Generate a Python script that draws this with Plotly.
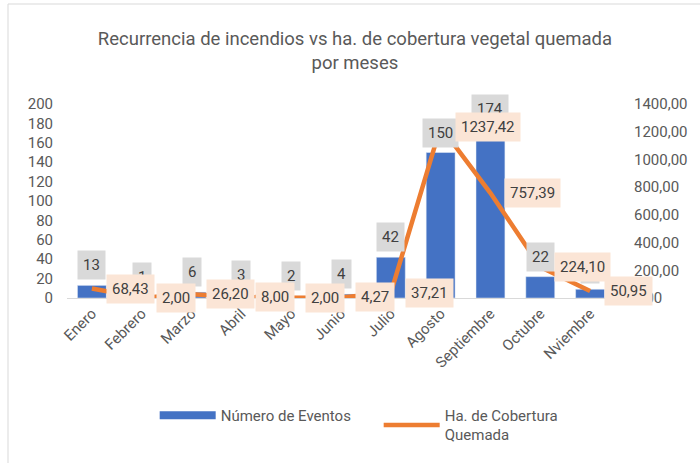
import plotly.graph_objects as go

meses = ["Enero", "Febrero", "Marzo", "Abril", "Mayo", "Junio", "Julio",
         "Agosto", "Septiembre", "Octubre", "Nviembre"]
eventos = [13, 1, 6, 3, 2, 4, 42, 150, 174, 22, 9]
hectareas = [68.43, 2.00, 26.20, 8.00, 2.00, 4.27, 37.21, 1237.42, 757.39, 224.10, 50.95]

y1_ticks = list(range(0, 201, 20))
y2_ticks = list(range(0, 1401, 200))

GRAY = "#595959"
FONT = "Roboto"
BLUE = "#4472c4"
ORANGE = "#ed7d31"

def fmt(v):
    return f"{v:.2f}".replace(".", ",")

fig = go.Figure()
fig.add_trace(go.Bar(
    x=meses, y=eventos, name="Número de Eventos",
    marker=dict(color=BLUE), yaxis="y", showlegend=False,
))
fig.add_trace(go.Scatter(
    x=meses, y=hectareas, name="Ha. de Cobertura<br>Quemada",
    mode="lines", line=dict(color=ORANGE, width=4.5), yaxis="y2",
    showlegend=False,
))
# legend entries (Excel-style wide swatches)
fig.add_trace(go.Scatter(
    x=[None], y=[None], name="Número de Eventos", mode="lines",
    line=dict(color=BLUE, width=8), yaxis="y",
))
fig.add_trace(go.Scatter(
    x=[None], y=[None], name="Ha. de Cobertura<br>Quemada", mode="lines",
    line=dict(color=ORANGE, width=4.5), yaxis="y2",
))

annotations = []
for m, v in zip(meses, eventos):
    annotations.append(dict(
        x=m, y=v, xref="x", yref="y", text=str(v), showarrow=False,
        yanchor="bottom", yshift=5, bgcolor="#d9d9d9", borderpad=5,
        font=dict(family=FONT, size=15, color="#404040"),
    ))
for m, v in zip(meses, hectareas):
    annotations.append(dict(
        x=m, y=v, xref="x", yref="y2", text=fmt(v), showarrow=False,
        xanchor="left", yanchor="middle", xshift=14, bgcolor="#fbe5d6",
        borderpad=5, font=dict(family=FONT, size=15, color="#404040"),
    ))

fig.update_layout(
    width=700, height=463,
    margin=dict(l=67, r=85, t=104, b=165, autoexpand=False),
    paper_bgcolor="white", plot_bgcolor="white",
    font=dict(family=FONT, size=15, color=GRAY),
    separators=",.",
    title=dict(
        text="Recurrencia de incendios vs ha. de cobertura vegetal quemada<br>por meses",
        x=0.507, xanchor="center", y=0.903, yanchor="top",
        font=dict(family=FONT, size=18.5, color=GRAY),
    ),
    bargap=0.42,
    xaxis=dict(
        type="category", range=[-0.5, len(meses) - 0.5],
        tickangle=-45, showgrid=False, showline=True, linecolor="#d9d9d9",
        linewidth=1, ticks="", tickfont=dict(size=15, color=GRAY),
        automargin=False,
    ),
    yaxis=dict(
        range=[0, 200], tickvals=y1_ticks, showgrid=False, zeroline=False,
        showline=False, ticks="", tickfont=dict(size=15, color=GRAY),
        automargin=False, ticklabelstandoff=13,
    ),
    yaxis2=dict(
        range=[0, 1400], tickvals=y2_ticks, tickformat=".2f", overlaying="y",
        side="right", showgrid=False, zeroline=False, showline=False,
        ticks="", tickfont=dict(size=15, color=GRAY), automargin=False,
        ticklabelstandoff=18,
    ),
    legend=dict(
        orientation="h", x=0.16, xanchor="left", y=-0.52, yanchor="top",
        font=dict(family=FONT, size=15, color=GRAY), itemwidth=56,
        entrywidth=153, entrywidthmode="pixels",
    ),
    annotations=annotations,
    shapes=[dict(
        type="rect", xref="paper", yref="paper",
        x0=(8 - 67) / 548, x1=(702 - 67) / 548,
        y0=(298 - 465) / 194, y1=(298 - 4) / 194,
        line=dict(color="#d9d9d9", width=1), layer="below",
    )],
)

fig.write_html(
    "out.html",
    config={"displayModeBar": False},
    post_script="document.body.style.margin='0';",
)
